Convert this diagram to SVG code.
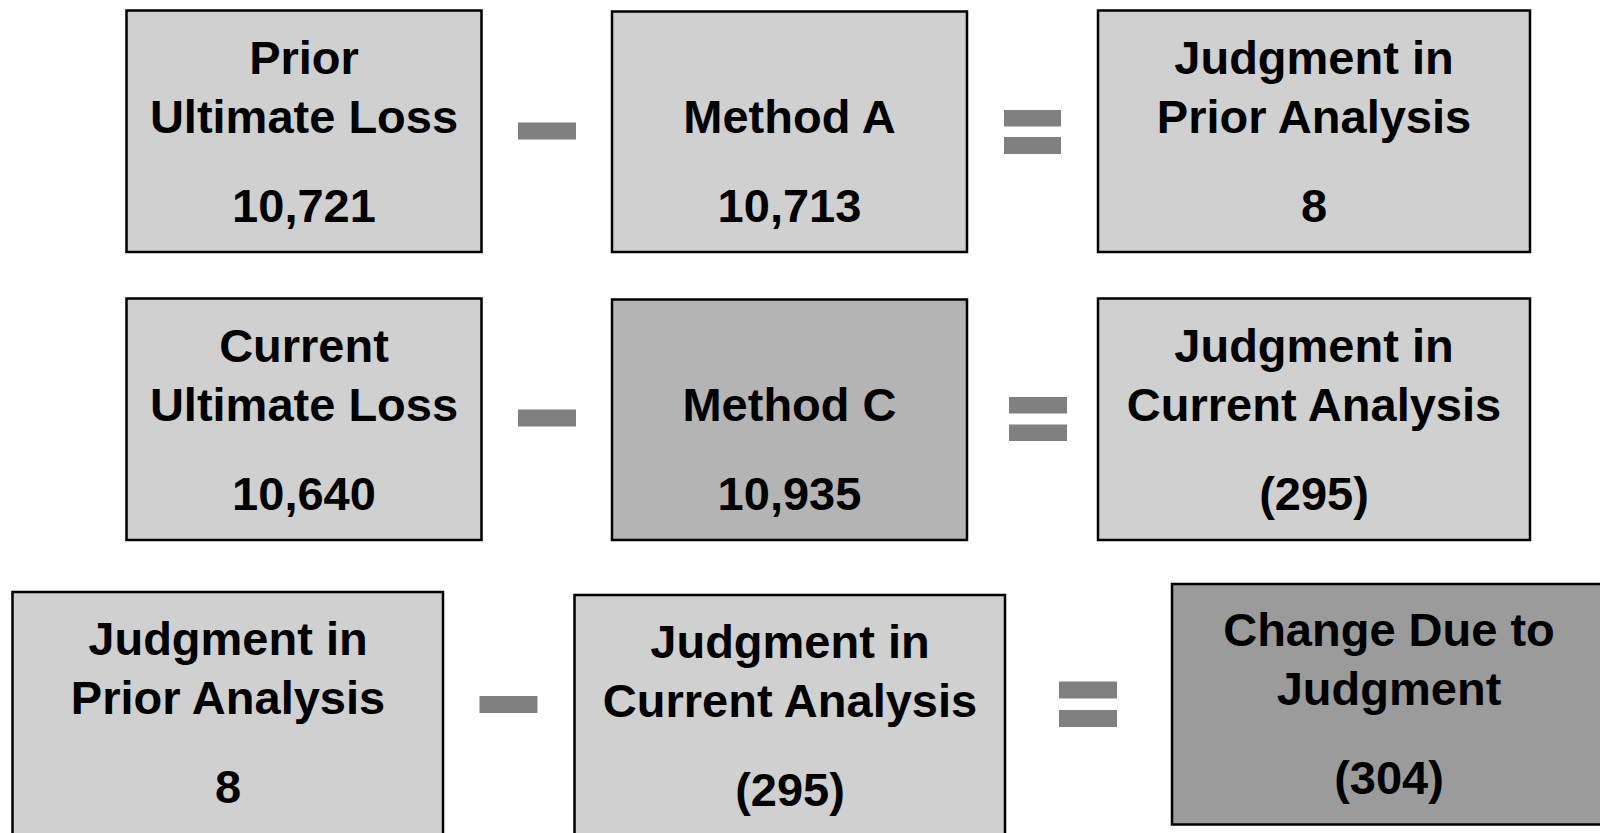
<svg xmlns="http://www.w3.org/2000/svg" width="1600" height="833" viewBox="0 0 1600 833">
<style>
.box{stroke:#000;stroke-width:2.5}
.l{fill:#d0d0d0}
.m{fill:#b4b4b4}
.d{fill:#9b9b9b}
.op{fill:#808080}
text{font-family:"Liberation Sans",Arial,sans-serif;font-weight:bold;font-size:47px;fill:#000;text-anchor:middle}
</style>
<rect width="1600" height="833" fill="#fff"/>
<g id="n1"><rect class="box l" x="126.5" y="10.5" width="355" height="241.5"/>
<text x="304" y="73.5">Prior</text><text x="304" y="132.5">Ultimate Loss</text><text x="304" y="221.5">10,721</text></g>
<g id="n2"><rect class="box l" x="612" y="11.5" width="355" height="240.5"/>
<text x="789.5" y="132.5">Method A</text><text x="789.5" y="221.5">10,713</text></g>
<g id="n3"><rect class="box l" x="1098" y="10.5" width="432" height="241.5"/>
<text x="1314" y="73.5">Judgment in</text><text x="1314" y="132.5">Prior Analysis</text><text x="1314" y="221.5">8</text></g>
<g id="n4"><rect class="box l" x="126.5" y="298.5" width="355" height="241.5"/>
<text x="304" y="362">Current</text><text x="304" y="421">Ultimate Loss</text><text x="304" y="509.5">10,640</text></g>
<g id="n5"><rect class="box m" x="612" y="299.5" width="355" height="240.5"/>
<text x="789.5" y="421">Method C</text><text x="789.5" y="509.5">10,935</text></g>
<g id="n6"><rect class="box l" x="1098" y="298.5" width="432" height="241.5"/>
<text x="1314" y="362">Judgment in</text><text x="1314" y="421">Current Analysis</text><text x="1314" y="509.5">(295)</text></g>
<g id="n7"><rect class="box l" x="12.5" y="592" width="430.5" height="260"/>
<text x="228" y="655">Judgment in</text><text x="228" y="714">Prior Analysis</text><text x="228" y="803">8</text></g>
<g id="n8"><rect class="box l" x="574.5" y="595" width="430.5" height="260"/>
<text x="790" y="658">Judgment in</text><text x="790" y="717">Current Analysis</text><text x="790" y="806">(295)</text></g>
<g id="n9"><rect class="box d" x="1172" y="584" width="450" height="240.5"/>
<text x="1389" y="646">Change Due to</text><text x="1389" y="705">Judgment</text><text x="1389" y="794">(304)</text></g>
<g id="connectors">
<rect class="op" x="518" y="122.5" width="58" height="17"/>
<rect class="op" x="1004" y="110" width="57" height="16.5"/>
<rect class="op" x="1004" y="137" width="57" height="17"/>
<rect class="op" x="518" y="409.5" width="58" height="17"/>
<rect class="op" x="1009" y="397" width="58" height="16.5"/>
<rect class="op" x="1009" y="424.5" width="58" height="16.5"/>
<rect class="op" x="479.5" y="696" width="58" height="17"/>
<rect class="op" x="1059" y="681.5" width="58" height="17"/>
<rect class="op" x="1059" y="710" width="58" height="17"/>
</g>
</svg>
